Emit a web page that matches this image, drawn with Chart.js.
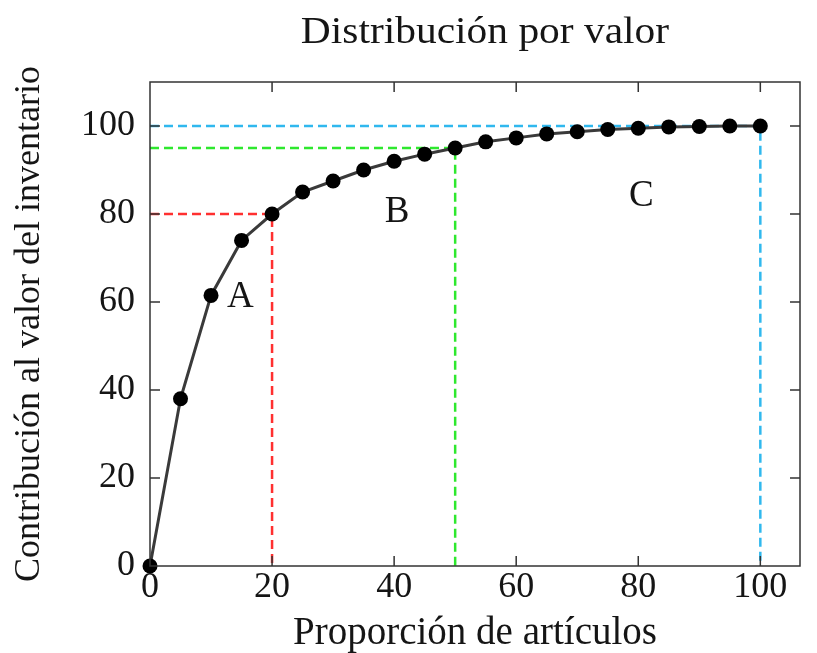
<!DOCTYPE html>
<html>
<head>
<meta charset="utf-8">
<script src="https://cdn.jsdelivr.net/npm/chart.js@4.4.0/dist/chart.umd.min.js"></script>
<style>
    html, body { margin: 0; padding: 0; background: #fff; }
</style>
</head>
<body>
<canvas id="chart-abc" width="817" height="653"></canvas>
<script>
// datos
const proporcion = [0, 5, 10, 15, 20, 25, 30, 35, 40, 45, 50, 55, 60, 65, 70, 75, 80, 85, 90, 95, 100];
const contribucion = [0, 38, 61.5, 74, 80, 85, 87.5, 90, 92, 93.6, 95, 96.4, 97.3, 98.2, 98.7, 99.2, 99.5, 99.8, 99.9, 100, 100];
const valoresTicks = [0, 20, 40, 60, 80, 100];
const cortesX = [20, 50, 100];
const cortesY = [80, 95, 100];
const coloresCorte = ["#ff3030", "#2ee82e", "#30b8ee"];
const zonas = ["A", "B", "C"];
const zonasX = [14.8, 40.5, 80.5];
const zonasY = [61, 80.5, 84];

const fuente = "'Liberation Serif', 'Times New Roman', serif";
const tinta = "#151515";

const cortes = cortesX.map((cx, i) => ({
    label: "corte " + zonas[i],
    data: [{ x: 0, y: cortesY[i] }, { x: cx, y: cortesY[i] }, { x: cx, y: 0 }],
    showLine: true,
    borderColor: coloresCorte[i],
    borderWidth: 2.5,
    borderDash: [9, 5],
    pointRadius: 0,
    fill: false,
    order: 2,
}));

const marco = {
    id: "marco",
    afterDatasetsDraw(chart) {
        const { ctx, chartArea: a, scales: { x, y } } = chart;
        ctx.save();
        ctx.strokeStyle = "#333";
        ctx.lineWidth = 1.5;
        ctx.strokeRect(a.left, a.top, a.right - a.left, a.bottom - a.top);
        ctx.beginPath();
        valoresTicks.slice(1).forEach((v) => {
            const px = x.getPixelForValue(v);
            ctx.moveTo(px, a.bottom); ctx.lineTo(px, a.bottom - 10);
            ctx.moveTo(px, a.top); ctx.lineTo(px, a.top + 10);
            const py = y.getPixelForValue(v);
            ctx.moveTo(a.left, py); ctx.lineTo(a.left + 10, py);
            ctx.moveTo(a.right, py); ctx.lineTo(a.right - 10, py);
        });
        ctx.stroke();

        ctx.fillStyle = tinta;
        ctx.font = "37px " + fuente;
        ctx.textAlign = "center";
        ctx.textBaseline = "middle";
        zonas.forEach((z, i) => {
            ctx.fillText(z, x.getPixelForValue(zonasX[i]), y.getPixelForValue(zonasY[i]));
        });

        // titulo, algo ensanchado como en la imagen original
        ctx.translate((a.left + a.right) / 2 + 10, 33);
        ctx.scale(1.12, 1);
        ctx.font = "37px " + fuente;
        ctx.fillText("Distribución por valor", 0, 0);
        ctx.restore();
    },
};

const chartABC = new Chart(document.getElementById("chart-abc"), {
    type: "scatter",
    data: {
        datasets: [
            {
                label: "Contribución",
                data: proporcion.map((p, i) => ({ x: p, y: contribucion[i] })),
                showLine: true,
                clip: false,
                borderColor: "#3a3a3a",
                borderWidth: 3,
                pointRadius: 7.5,
                pointBackgroundColor: "#000",
                pointBorderColor: "#000",
                pointBorderWidth: 0,
                order: 0,
            },
            ...cortes,
        ],
    },
    options: {
        responsive: false,
        animation: false,
        layout: {
            padding: { top: 82, right: 17, left: 0, bottom: 0 },
        },
        plugins: {
            legend: { display: false },
            tooltip: { enabled: false },
            title: { display: false },
        },
        scales: {
            x: {
                type: "linear",
                min: 0,
                max: 106.5,
                grid: { display: false, drawTicks: false },
                border: { display: false },
                afterBuildTicks: (s) => {
                    s.ticks = valoresTicks.map((v) => ({ value: v }));
                },
                afterFit: (s) => {
                    s.height = 87;
                },
                ticks: {
                    padding: 0,
                    maxRotation: 0,
                    autoSkip: false,
                    color: tinta,
                    font: { family: fuente, size: 36 },
                },
                title: {
                    display: true,
                    text: "Proporción de artículos",
                    color: tinta,
                    padding: { top: 0, bottom: 0 },
                    font: { family: fuente, size: 39, lineHeight: 1 },
                },
            },
            y: {
                type: "linear",
                min: 0,
                max: 110,
                grid: { display: false, drawTicks: false },
                border: { display: false },
                afterBuildTicks: (s) => {
                    s.ticks = valoresTicks.map((v) => ({ value: v }));
                },
                afterFit: (s) => {
                    s.width = 150;
                },
                ticks: {
                    padding: 15,
                    autoSkip: false,
                    color: tinta,
                    font: { family: fuente, size: 36 },
                },
                title: {
                    display: true,
                    text: "Contribución al valor del inventario",
                    color: tinta,
                    padding: { top: 12, bottom: 0 },
                    font: { family: fuente, size: 36, lineHeight: 1 },
                },
            },
        },
    },
    plugins: [marco],
});
</script>
</body>
</html>
